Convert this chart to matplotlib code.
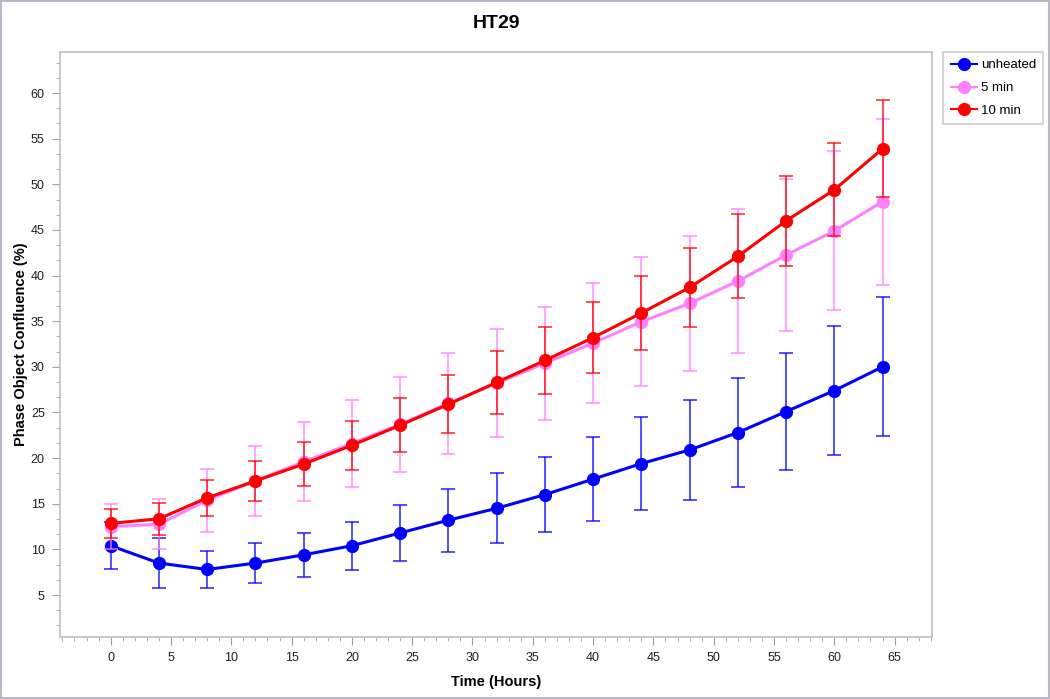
import numpy as np
import matplotlib
matplotlib.use("Agg")
import matplotlib.pyplot as plt
from matplotlib.lines import Line2D
from matplotlib.ticker import MultipleLocator, AutoMinorLocator

plt.rcParams["font.family"] = ["Liberation Sans", "DejaVu Sans"]

# data
hours = [0, 4, 8, 12, 16, 20, 24, 28, 32, 36, 40, 44, 48, 52, 56, 60, 64]

unheated = [10.4, 8.5, 7.8, 8.5, 9.4, 10.4, 11.8, 13.2, 14.5, 16.0, 17.7, 19.4, 20.9, 22.8, 25.1, 27.4, 30.0]
unheated_err = [2.55, 2.75, 2.0, 2.2, 2.45, 2.65, 3.05, 3.45, 3.85, 4.1, 4.6, 5.1, 5.45, 6.0, 6.4, 7.05, 7.6]

min5 = [12.5, 12.75, 15.4, 17.5, 19.6, 21.6, 23.7, 26.0, 28.2, 30.4, 32.6, 34.95, 36.95, 39.4, 42.25, 44.9, 48.1]
min5_err = [2.5, 2.75, 3.45, 3.85, 4.35, 4.8, 5.2, 5.55, 5.9, 6.2, 6.6, 7.05, 7.35, 7.85, 8.3, 8.7, 9.1]

min10 = [12.85, 13.35, 15.65, 17.5, 19.35, 21.4, 23.6, 25.9, 28.3, 30.7, 33.2, 35.9, 38.7, 42.1, 46.0, 49.4, 53.9]
min10_err = [1.6, 1.75, 2.0, 2.2, 2.45, 2.7, 2.95, 3.2, 3.45, 3.7, 3.9, 4.1, 4.3, 4.6, 4.95, 5.1, 5.3]

series = [
    ("unheated", unheated, unheated_err, "#0000ff"),
    ("5 min", min5, min5_err, "#ff80ff"),
    ("10 min", min10, min10_err, "#ff0000"),
]

fig = plt.figure(figsize=(10.5, 6.99), dpi=100)
ax = fig.add_axes([60 / 1050, 1 - 637 / 699, 872 / 1050, 585 / 699])

handles = []
for name, y, err, col in series:
    ax.errorbar(hours, y, yerr=err, fmt="none", ecolor=col, elinewidth=1.2,
                capsize=5, capthick=1.2, alpha=0.8)
    ax.plot(hours, y, color=col, lw=2.2, marker="o", ms=8.5)
    handles.append(Line2D([], [], color=col, lw=1.5, marker="o", ms=8.5, label=name))

ax.set_xlim(-4.2, 68.1)
ax.set_ylim(0.4, 64.5)
ax.xaxis.set_minor_locator(MultipleLocator(1))
ax.yaxis.set_minor_locator(AutoMinorLocator(3))
ax.set_xticks(range(0, 70, 5))
ax.set_yticks(range(5, 65, 5))

for s in ax.spines.values():
    s.set_color("#c0c0c0")
    s.set_linewidth(1.2)
ax.tick_params(which="both", color="#a0a0a0", labelsize=9, labelcolor="#202020")
ax.tick_params(which="major", length=6, pad=5)
ax.tick_params(which="minor", length=3)

ax.set_title("HT29", fontsize=14, fontweight="bold", pad=17)
ax.set_xlabel("Time (Hours)", fontsize=10.5, fontweight="bold", labelpad=8)
ax.set_ylabel("Phase Object Confluence (%)", fontsize=10.5, fontweight="bold", labelpad=2)

leg = ax.legend(handles=handles, loc="upper left", bbox_to_anchor=(1.013, 1.0),
                borderaxespad=0, fontsize=9.5, frameon=True, fancybox=False,
                borderpad=0.55, labelspacing=0.8, handlelength=2.0, handletextpad=0.3)
leg.get_frame().set_edgecolor("#c0c0c0")
leg.get_frame().set_linewidth(1.2)

fig.patches.append(plt.Rectangle((0.001, 0.001), 0.998, 0.998, transform=fig.transFigure,
                                 fill=False, edgecolor="#b8b8c8", lw=1.5))

fig.savefig("out.png", dpi=100)
